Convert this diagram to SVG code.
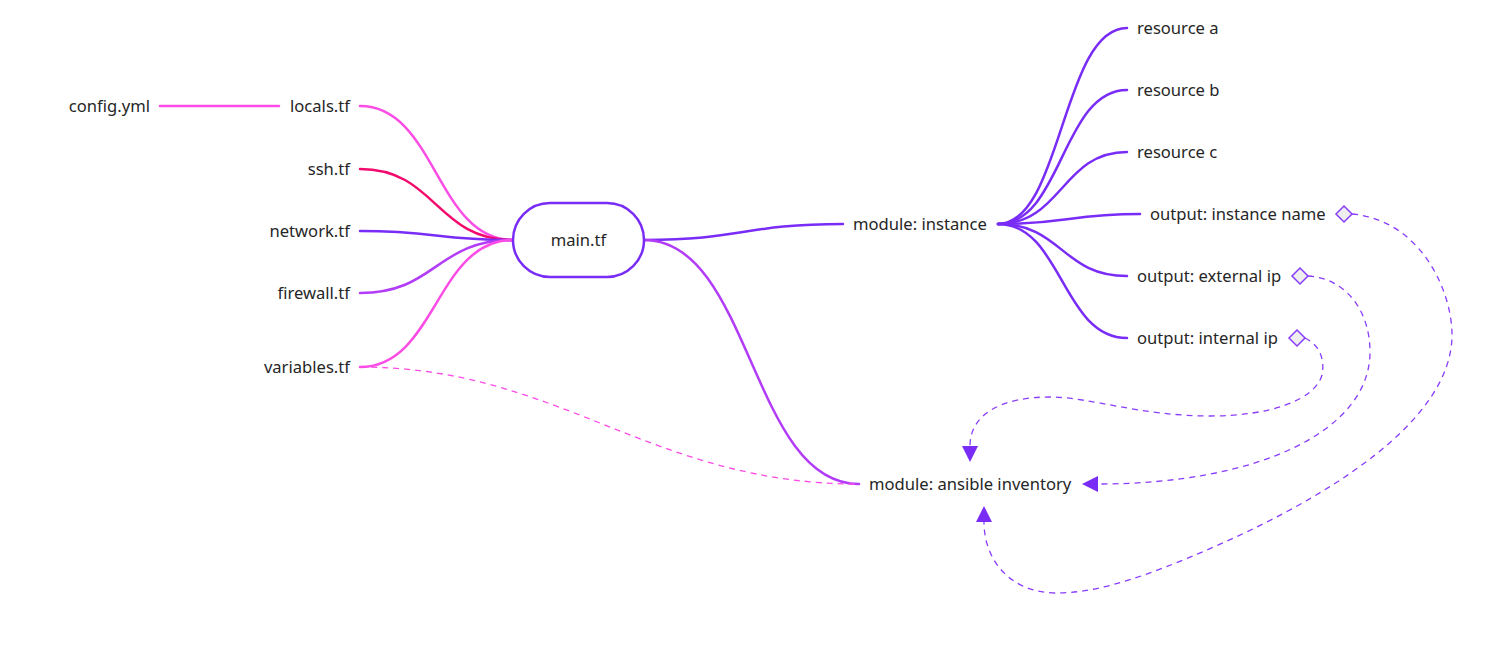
<svg xmlns="http://www.w3.org/2000/svg" width="1493" height="669" viewBox="0 0 1493 669">
<style>
  text { font-family: "Noto Sans", "Open Sans", sans-serif; font-size: 16.6px; fill: #262626; dominant-baseline: central; }
  .r { text-anchor: end; }
  .c { text-anchor: middle; }
  .edge { fill: none; stroke-width: 2.5; stroke-linecap: round; }
  .pink { stroke: #fb4ce6; }
  .red { stroke: #f20a6c; }
  .purple { stroke: #7a2cf7; }
  .violet { stroke: #b23cf7; }
  .dash { fill: none; stroke-width: 1.3; stroke-dasharray: 6 5; }
  .dpurple { stroke: #8a3cfb; }
  .dpink { stroke: #fb4ce6; }
  .diamond { fill: #eeeeee; stroke: #8a3cfb; stroke-width: 1.5; }
</style>
<defs>
  <marker id="arrow" viewBox="0 0 16 16" refX="0" refY="8" markerWidth="16" markerHeight="16" markerUnits="userSpaceOnUse" orient="auto">
    <path d="M0,0 L16,8 L0,16 z" fill="#7a2cf7"/>
  </marker>
</defs>
<rect width="1493" height="669" fill="#ffffff"/>
<g id="connectors">
  <path class="edge pink" d="M160,106 L279,106"/>
  <path class="edge pink" d="M360,106 C436,106 436,240 513,240"/>
  <path class="edge red" d="M360,169 C436,169 436,240 513,240"/>
  <path class="edge purple" d="M360,231 C436,231 436,240 513,240"/>
  <path class="edge violet" d="M360,293 C436,293 436,240 513,240"/>
  <path class="edge pink" d="M360,367 C436,367 436,240 513,240"/>
  <path class="edge purple" d="M644,240 C743,240 743,224 843,224"/>
  <path class="edge violet" d="M644,240 C751,240 751,484 859,484"/>
  <path class="edge purple" d="M998,224 C1062,224 1062,28 1127,28"/>
  <path class="edge purple" d="M998,224 C1062,224 1062,90 1127,90"/>
  <path class="edge purple" d="M998,224 C1062,224 1062,152 1127,152"/>
  <path class="edge purple" d="M998,224 C1069,224 1069,214 1140,214"/>
  <path class="edge purple" d="M998,224 C1062,224 1062,276 1127,276"/>
  <path class="edge purple" d="M998,224 C1062,224 1062,338 1127,338"/>
  <path class="dash dpink" d="M360,367 C560,367 650,484 859,484"/>
  <path class="dash dpurple" marker-end="url(#arrow)" d="M1305,338 C1320,345 1325,360 1322,375 C1315,400 1270,416 1210,416 C1140,416 1090,397 1050,397 C1000,397 970,415 970,446"/>
  <path class="dash dpurple" marker-end="url(#arrow)" d="M1308,276 C1345,278 1370,310 1370,352 C1370,430 1260,484 1098,484"/>
  <path class="dash dpurple" marker-end="url(#arrow)" d="M1352,214 C1420,220 1452,290 1452,335 C1452,420 1330,500 1183,560 C1130,582 1090,593 1057,593 C1010,593 984,560 984,522"/>
</g>
<g id="config-yml"><text class="r" x="150" y="105">config.yml</text></g>
<g id="locals-tf"><text class="r" x="350" y="105">locals.tf</text></g>
<g id="ssh-tf"><text class="r" x="350" y="168">ssh.tf</text></g>
<g id="network-tf"><text class="r" x="350" y="230">network.tf</text></g>
<g id="firewall-tf"><text class="r" x="350" y="292">firewall.tf</text></g>
<g id="variables-tf"><text class="r" x="350" y="366">variables.tf</text></g>
<g id="main-tf">
  <rect x="513" y="203" width="131" height="74" rx="37" ry="37" fill="#ffffff" stroke="#7a2cf7" stroke-width="2.5"/>
  <text class="c" x="578.5" y="239">main.tf</text>
</g>
<g id="module-instance"><text x="853" y="223">module: instance</text></g>
<g id="module-ansible-inventory"><text x="869" y="483">module: ansible inventory</text></g>
<g id="resource-a"><text x="1137" y="27">resource a</text></g>
<g id="resource-b"><text x="1137" y="89">resource b</text></g>
<g id="resource-c"><text x="1137" y="151">resource c</text></g>
<g id="output-instance-name">
  <text x="1150" y="213">output: instance name</text>
  <path class="diamond" d="M1344,206 L1352,214 L1344,222 L1336,214 z"/>
</g>
<g id="output-external-ip">
  <text x="1137" y="275">output: external ip</text>
  <path class="diamond" d="M1300,268 L1308,276 L1300,284 L1292,276 z"/>
</g>
<g id="output-internal-ip">
  <text x="1137" y="337">output: internal ip</text>
  <path class="diamond" d="M1297,330 L1305,338 L1297,346 L1289,338 z"/>
</g>
</svg>
